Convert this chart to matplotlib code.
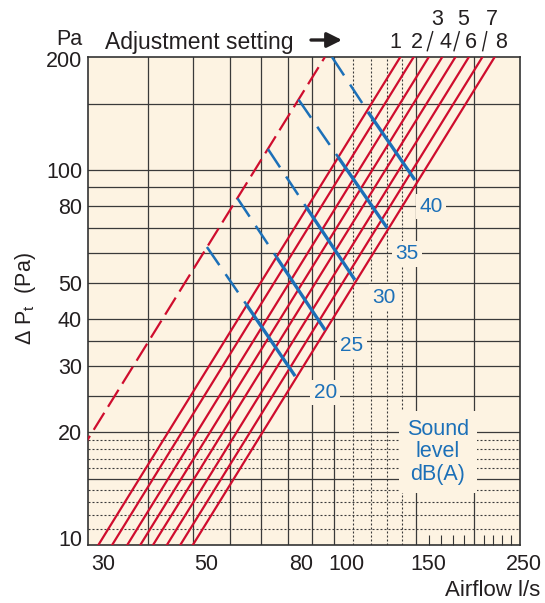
import matplotlib
matplotlib.use("Agg")
import matplotlib.pyplot as plt
import matplotlib.transforms as mtransforms
from matplotlib.lines import Line2D

plt.rcParams['font.family'] = ['Liberation Sans', 'DejaVu Sans']

# ---- data (airflow l/s, pressure Pa) ----
settings = [1, 2, 3, 4, 5, 6, 7, 8]
flow_at_10pa = [31.3, 33.5, 36.1, 38.5, 41.0, 43.9, 46.9, 49.9]
flow_at_200pa = [139.0, 148.5, 160.0, 171.0, 182.5, 195.0, 208.5, 221.5]

open_flow = [21.5, 95.8]        # dashed red line (fully open)
open_pressure = [10, 200]

sound_levels = [20, 25, 30, 35, 40]
sound_start_q = [53.5, 62.2, 72.3, 84.1, 99.2]
sound_start_p = [62.3, 84.0, 113.7, 154.0, 200.0]
sound_knee_q = [64.9, 75.6, 87.3, 102.2, 118.5]
sound_knee_p = [43.9, 58.3, 79.7, 108.3, 142.8]
sound_end_q = [82.7, 95.9, 111.1, 130.2, 149.4]
sound_end_p = [28.2, 37.4, 50.9, 70.1, 94.0]
sound_label_q = [95.9, 109.5, 128.2, 143.7, 161.8]
sound_label_p = [25.5, 34.1, 45.8, 59.7, 79.7]

x_ticks = [30, 50, 80, 100, 150, 250]
y_ticks = [10, 20, 30, 40, 50, 80, 100, 200]
x_grid_solid = [40, 50, 60, 70, 80, 90, 100, 150, 200]
x_grid_dotted = [110, 120, 130, 140]
x_minor = [160, 170, 180, 190, 210, 220, 230, 240]
y_grid_solid = [15, 20, 25, 30, 35, 40, 50, 60, 70, 80, 90, 100, 150]
y_grid_dotted = [11, 12, 13, 14, 16, 17, 18, 19]

RED = '#cf0d2e'
BLUE = '#1c70b8'
BG = '#fdf3e2'
INK = '#231f20'
GRID = '#3a3a3a'

W, H = 545, 603
fig = plt.figure(figsize=(W / 100, H / 100), dpi=100)
ax = fig.add_axes([88 / W, 1 - 545 / H, 432 / W, 488 / H])
ax.set_xscale('log')
ax.set_yscale('log')
ax.set_xlim(29.74, 251)
ax.set_ylim(10, 200)
ax.set_facecolor(BG)
for s in ax.spines.values():
    s.set_color('#333333')
    s.set_linewidth(1.2)

# grid
for v in x_grid_solid:
    ax.axvline(v, color=GRID, lw=0.9, zorder=1)
for v in x_grid_dotted:
    ax.axvline(v, color=GRID, lw=0.8, ls=(0, (1.8, 1.8)), zorder=1)
for v in y_grid_solid:
    ax.axhline(v, color=GRID, lw=0.9, zorder=1)
for v in y_grid_dotted:
    ax.axhline(v, color=GRID, lw=0.8, ls=(0, (1.8, 1.8)), zorder=1)

# ticks: labels drawn by hand below, minor ticks only at bottom right
ax.xaxis.set_major_locator(matplotlib.ticker.NullLocator())
ax.yaxis.set_major_locator(matplotlib.ticker.NullLocator())
ax.yaxis.set_minor_locator(matplotlib.ticker.NullLocator())
ax.set_xticks(x_minor, minor=True)
ax.xaxis.set_minor_formatter(matplotlib.ticker.NullFormatter())
ax.tick_params(axis='x', which='minor', direction='in', length=7, width=0.8,
               color='#333333')

# red setting lines
for q1, q2 in zip(flow_at_10pa, flow_at_200pa):
    ax.plot([q1, q2], [10, 200], color=RED, lw=1.6, zorder=3)
ax.plot(open_flow, open_pressure, color=RED, lw=1.6, ls=(0, (9, 3.2)), zorder=3)

# blue sound-level lines
for i, lev in enumerate(sound_levels):
    ax.plot([sound_start_q[i], sound_knee_q[i]], [sound_start_p[i], sound_knee_p[i]],
            color=BLUE, lw=1.8, ls=(0, (8.8, 4.4)), zorder=4)
    ax.plot([sound_knee_q[i], sound_end_q[i]], [sound_knee_p[i], sound_end_p[i]],
            color=BLUE, lw=2.4, solid_capstyle='butt', zorder=4)
    ax.text(sound_label_q[i], sound_label_p[i], str(lev), color=BLUE, fontsize=15,
            ha='center', va='center', zorder=2.5,
            bbox=dict(boxstyle='square,pad=0.15', fc=BG, ec='none'))

ax.text(167.4, 17.7, 'Sound\nlevel\ndB(A)', color=BLUE, fontsize=15.5, ha='center',
        va='center', linespacing=1.1, zorder=2.5,
        bbox=dict(boxstyle='square,pad=0.35', fc=BG, ec='none'))

# tick labels
xtrans = mtransforms.blended_transform_factory(ax.transData, ax.transAxes)
for v in x_ticks:
    dx = 0.05 if v == 250 else 0.13
    off = mtransforms.ScaledTranslation(dx, -0.085, fig.dpi_scale_trans)
    ax.text(v, 0, str(v), transform=xtrans + off, ha='center', va='top',
            fontsize=15.5, color=INK, clip_on=False)
ytrans = mtransforms.blended_transform_factory(ax.transAxes, ax.transData)
for v in y_ticks:
    dy = 0.07 if v == 10 else (-0.02 if v == 200 else 0)
    off = mtransforms.ScaledTranslation(-0.06, dy, fig.dpi_scale_trans)
    ax.text(0, v, str(v), transform=ytrans + off, ha='right', va='center_baseline',
            fontsize=15.5, color=INK, clip_on=False)

fig.text(82 / W, 1 - 37 / H, 'Pa', ha='right', va='center_baseline', fontsize=15.5, color=INK)
fig.text(540 / W, 1 - 588 / H, 'Airflow l/s', ha='right', va='center_baseline',
         fontsize=16, color=INK)
fig.text(25 / W, 1 - 299 / H, r'Δ P$_\mathregular{t}$  (Pa)', rotation=90, ha='center',
         va='center', fontsize=15.5, color=INK)

# adjustment setting header
fig.text(105 / W, 1 - 40 / H, 'Adjustment setting', ha='left', va='center_baseline',
         fontsize=16.5, color=INK)
ax.annotate('', xy=(342 / W, 1 - 40 / H), xytext=(311 / W, 1 - 40 / H),
            xycoords='figure fraction', textcoords='figure fraction',
            arrowprops=dict(arrowstyle='-|>,head_length=0.9,head_width=0.45',
                            lw=2.4, color=INK, shrinkA=0, shrinkB=0))
low_x = [395.7, 417.0, 445.0, 470.7, 500.7]
low_t = ['1', '2', '4', '6', '8']
for x, t in zip(low_x, low_t):
    fig.text(x / W, 1 - 40 / H, t, ha='center', va='center_baseline', fontsize=15.5, color=INK)
high_x = [437.3, 463.3, 491.7]
high_t = ['3', '5', '7']
for x, t in zip(high_x, high_t):
    fig.text(x / W, 1 - 17 / H, t, ha='center', va='center_baseline', fontsize=15.5, color=INK)
for x0, x1 in [(427.3, 432.7), (454.0, 459.3), (482.7, 486.7)]:
    fig.add_artist(Line2D([x0 / W, x1 / W], [1 - 50.7 / H, 1 - 31.7 / H],
                          transform=fig.transFigure, color=INK, lw=1.0))

fig.savefig('out.png', dpi=100, facecolor='white')
